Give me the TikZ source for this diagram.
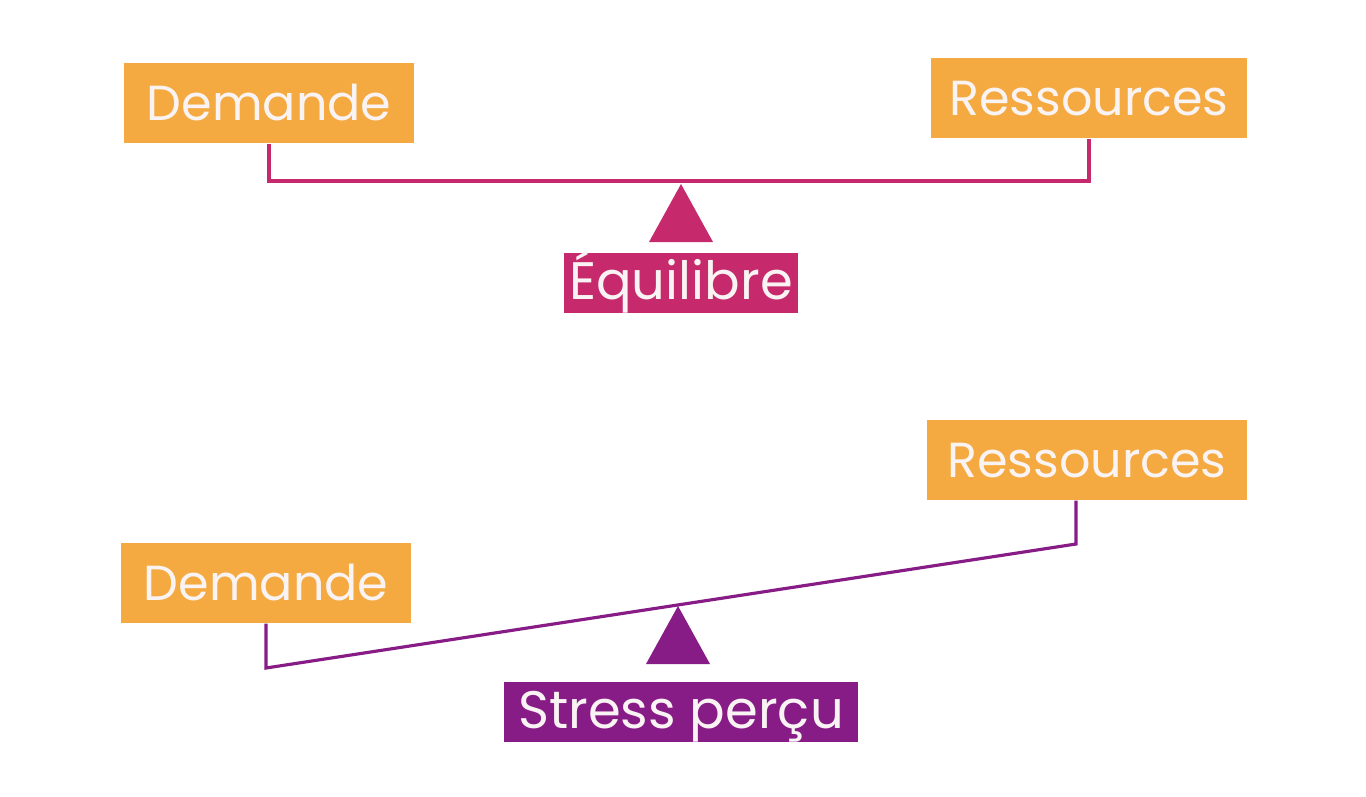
\documentclass[tikz,border=0pt]{standalone}
\usepackage{fontspec}
\setmainfont{Poppins}
\usepackage{xcolor}
\usetikzlibrary{positioning}
\definecolor{orangebox}{HTML}{F4AA40}
\definecolor{magentabal}{HTML}{C62A6D}
\definecolor{purplebal}{HTML}{871C86}
\definecolor{offwhite}{HTML}{FAF3F3}

\begin{document}
\begin{tikzpicture}[x=0.01cm,y=-0.01cm,
    plate/.style={fill=orangebox, text=offwhite, minimum height=0.8cm, inner sep=0pt, font=\fontsize{14}{17}\selectfont, text height=9.8pt, text depth=0pt},
    verdict/.style={text=offwhite, minimum height=0.59cm, inner sep=0pt, font=\fontsize{15}{18}\selectfont, text height=9.4pt, text depth=0pt}]
    \useasboundingbox (0,0) rectangle (1366,796);

    % balanced scale
    \node[plate, minimum width=2.9cm] (dem1) at (269,103) {Demande};
    \node[plate, minimum width=3.16cm] (res1) at (1089,98) {Ressources};
    \coordinate (beam1l) at (269,181);
    \coordinate (beam1r) at (1089,181);
    \draw[magentabal, line width=0.9pt] (dem1.south) -- (beam1l) -- (beam1r) -- (res1.south);
    \fill[magentabal] (681,184) -- (713,242) -- (649,242) -- cycle;
    \node[verdict, fill=magentabal, minimum width=2.34cm] (eq) at (681,283) {Équilibre};

    % tilted scale
    \node[plate, minimum width=3.19cm] (res2) at (1087,460) {Ressources};
    \node[plate, minimum width=2.9cm] (dem2) at (266,583) {Demande};
    \coordinate (beam2l) at (266,668);
    \coordinate (beam2r) at (1076,544);
    \draw[purplebal, line width=0.9pt] (dem2.south) -- (beam2l) -- (beam2r) -- (res2.south -| beam2r);
    \fill[purplebal] (678,606) -- (710,664) -- (646,664) -- cycle;
    \node[verdict, fill=purplebal, minimum width=3.53cm] (stress) at (681,712) {Stress perçu};
\end{tikzpicture}
\end{document}
